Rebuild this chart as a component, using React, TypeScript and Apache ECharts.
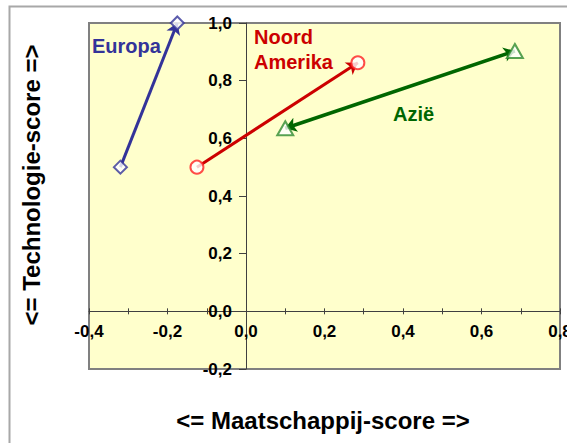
import React, { useEffect, useRef } from "react";
import * as echarts from "echarts";

const xTicks = { min: -0.4, max: 0.8, step: 0.2 };
const yTicks = { min: -0.2, max: 1.0, step: 0.2 };

const regions = ["Europa", "Noord Amerika", "Azië"];
const europaX = [-0.32, -0.175];
const europaY = [0.5, 1.0];
const amerikaX = [-0.125, 0.285];
const amerikaY = [0.5, 0.862];
const azieX = [0.1, 0.685];
const azieY = [0.635, 0.903];

const xName = "<= Maatschappij-score =>";
const yName = "<= Technologie-score =>";

const FONT = "'Liberation Sans', Arial, sans-serif";
const fmt = (v: number) => v.toFixed(1).replace(".", ",");

const pts = (xs: number[], ys: number[]) => xs.map((x, i) => [x, ys[i]]);

const W = 567;
const H = 443;
const G = { left: 89, top: 23, right: 7, bottom: 74 };

export default function App() {
  const ref = useRef<HTMLDivElement>(null);
  useEffect(() => {
    if (!ref.current) return;
    const chart = echarts.init(ref.current, undefined, { renderer: "svg" });
    const blue = "#333399";
    const red = "#CC0000";
    const green = "#006600";
    const gridW = W - G.left - G.right;
    const gridH = H - G.top - G.bottom;
    // move axes so that they cross at zero
    const yOffset = -((0 - xTicks.min) / (xTicks.max - xTicks.min)) * gridW;
    const xOffset = -((0 - yTicks.min) / (yTicks.max - yTicks.min)) * gridH;
    const axisLabel = {
      formatter: fmt,
      color: "#000",
      fontWeight: "bold" as const,
      fontSize: 17,
      fontFamily: FONT,
    };
    const lineCol = "#404040";
    chart.setOption({
      animation: false,
      backgroundColor: "#fff",
      grid: {
        ...G,
        outerBoundsMode: "none",
        containLabel: false,
        show: true,
        backgroundColor: "#FFFFCC",
        borderColor: "#808080",
        borderWidth: 2,
      },
      xAxis: [
        {
          type: "value",
          min: xTicks.min,
          max: xTicks.max,
          interval: xTicks.step,
          position: "bottom",
          offset: xOffset,
          axisLine: { show: true, onZero: false, lineStyle: { color: lineCol, width: 1 } },
          axisTick: { show: true, length: 3, lineStyle: { color: lineCol } },
          minorTick: { show: true, splitNumber: 2, length: 3, lineStyle: { color: lineCol } },
          splitLine: { show: false },
          axisLabel: { ...axisLabel, margin: 12 },
        },
        {
          type: "value",
          min: xTicks.min,
          max: xTicks.max,
          interval: xTicks.step,
          position: "bottom",
          offset: xOffset,
          axisLine: { show: false, onZero: false },
          axisTick: { show: true, inside: true, length: 3, lineStyle: { color: lineCol } },
          minorTick: { show: true, splitNumber: 2, length: 3, lineStyle: { color: lineCol } },
          splitLine: { show: false },
          axisLabel: { show: false },
        },
      ],
      yAxis: {
        type: "value",
        min: yTicks.min,
        max: yTicks.max,
        interval: yTicks.step,
        position: "left",
        offset: yOffset,
        axisLine: { show: true, onZero: false, lineStyle: { color: lineCol, width: 1 } },
        axisTick: { show: true, length: 7, lineStyle: { color: lineCol } },
        splitLine: { show: false },
        axisLabel: { ...axisLabel, margin: 14 },
      },
      graphic: [
        {
          type: "rect",
          z: -10,
          silent: true,
          shape: { x: 9.5, y: 6.5, width: 700, height: 600 },
          style: { fill: "none", stroke: "#A8A8A8", lineWidth: 2 },
        },
        {
          type: "text",
          x: 92,
          y: 46,
          style: { text: "Europa", font: `bold 20px ${FONT}`, fill: blue, textVerticalAlign: "middle" },
        },
        {
          type: "text",
          x: 254,
          y: 37,
          style: { text: "Noord", font: `bold 20px ${FONT}`, fill: red, textVerticalAlign: "middle" },
        },
        {
          type: "text",
          x: 254,
          y: 62,
          style: { text: "Amerika", font: `bold 20px ${FONT}`, fill: red, textVerticalAlign: "middle" },
        },
        {
          type: "text",
          x: 393,
          y: 114,
          style: { text: "Azië", font: `bold 20px ${FONT}`, fill: green, textVerticalAlign: "middle" },
        },
        {
          type: "text",
          x: 323,
          y: 420,
          style: {
            text: xName,
            font: `bold 24px ${FONT}`,
            fill: "#000",
            textAlign: "center",
            textVerticalAlign: "middle",
          },
        },
        {
          type: "text",
          x: 31,
          y: 185,
          rotation: Math.PI / 2,
          style: {
            text: yName,
            font: `bold 24px ${FONT}`,
            fill: "#000",
            textAlign: "center",
            textVerticalAlign: "middle",
          },
        },
      ],
      series: [
        {
          type: "lines",
          name: regions[0],
          coordinateSystem: "cartesian2d",
          z: 2,
          symbol: ["none", "arrow"],
          symbolSize: 11,
          lineStyle: { color: blue, width: 3, opacity: 1 },
          data: [{ coords: pts(europaX, europaY) }],
        },
        {
          type: "lines",
          name: regions[1],
          coordinateSystem: "cartesian2d",
          z: 2,
          symbol: ["none", "arrow"],
          symbolSize: 11,
          lineStyle: { color: red, width: 3, opacity: 1 },
          data: [{ coords: pts(amerikaX, amerikaY) }],
        },
        {
          type: "lines",
          name: regions[2],
          coordinateSystem: "cartesian2d",
          z: 2,
          symbol: ["arrow", "arrow"],
          symbolSize: 11,
          lineStyle: { color: green, width: 3.5, opacity: 1 },
          data: [{ coords: pts(azieX, azieY) }],
        },
        {
          type: "scatter",
          name: regions[0],
          z: 5,
          symbol: "diamond",
          symbolSize: 13,
          itemStyle: { color: "#fff", borderColor: blue, borderWidth: 2 },
          data: pts(europaX, europaY),
        },
        {
          type: "scatter",
          name: regions[1],
          z: 5,
          symbol: "circle",
          symbolSize: 13,
          itemStyle: { color: "#fff", borderColor: "#FF2020", borderWidth: 2 },
          data: pts(amerikaX, amerikaY),
        },
        {
          type: "scatter",
          name: regions[2],
          z: 5,
          symbol: "triangle",
          symbolSize: [16, 14],
          itemStyle: { color: "#fff", borderColor: "#2E8B2E", borderWidth: 2 },
          data: pts(azieX, azieY),
        },
      ],
    });
    return () => chart.dispose();
  }, []);
  return (
    <div
      ref={ref}
      style={{ position: "fixed", left: 0, top: 0, width: W, height: H }}
    />
  );
}
